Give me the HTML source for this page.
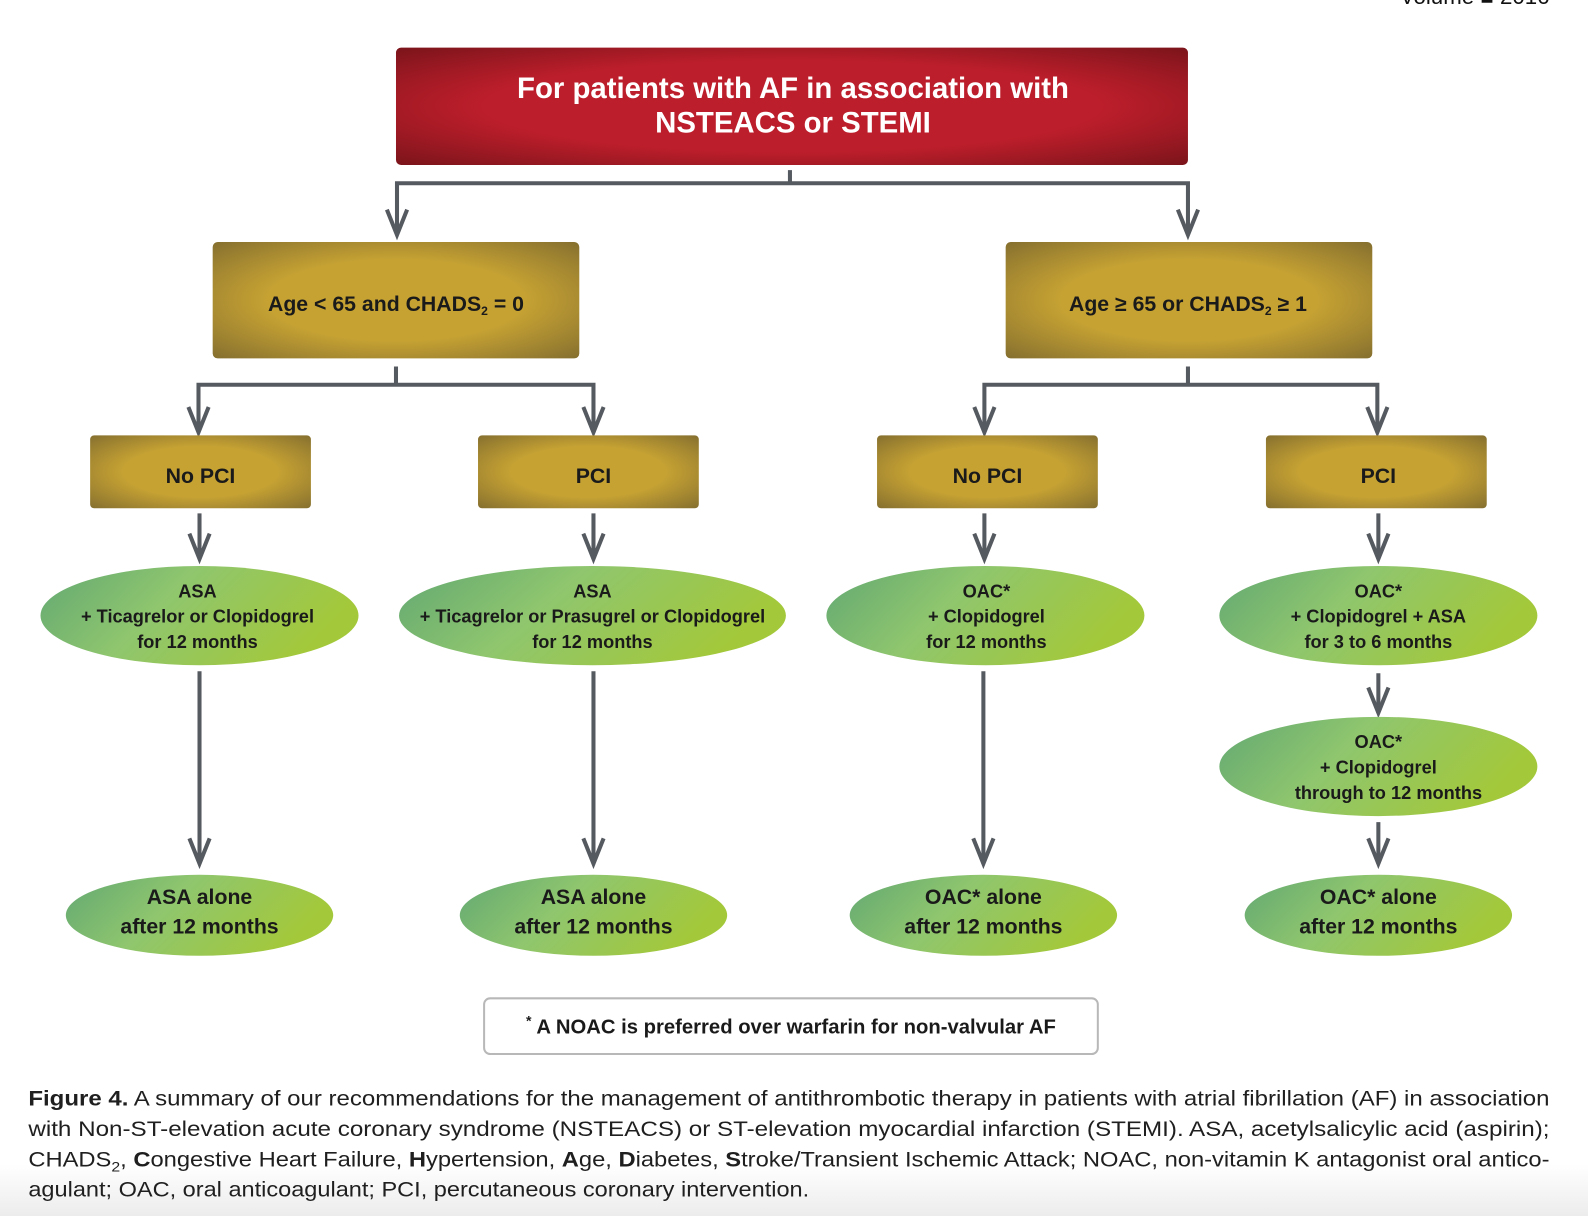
<!DOCTYPE html>
<html><head><meta charset="utf-8"><style>
html,body{margin:0;padding:0;background:#fff;}
svg{display:block;}
text{font-family:"Liberation Sans",sans-serif;}
</style></head><body>
<svg width="1588" height="1216" viewBox="0 0 1568 1201" preserveAspectRatio="none" xmlns="http://www.w3.org/2000/svg">
<defs>
<radialGradient id="red" cx="50%" cy="50%" r="70%"><stop offset="0.55" stop-color="#bd1e2b"/><stop offset="1" stop-color="#7c141b"/></radialGradient>
<radialGradient id="gold" cx="50%" cy="50%" r="70%"><stop offset="0.5" stop-color="#c6a233"/><stop offset="1" stop-color="#86702f"/></radialGradient>
<linearGradient id="grn" x1="0" y1="0" x2="1" y2="0.3"><stop offset="0" stop-color="#62a873"/><stop offset="0.45" stop-color="#8fc66e"/><stop offset="1" stop-color="#a3c83a"/></linearGradient>
<linearGradient id="bot" x1="0" y1="0" x2="0" y2="1"><stop offset="0" stop-color="#fff"/><stop offset="1" stop-color="#ececec"/></linearGradient>
</defs>
<rect x="0" y="1150" width="1568" height="51" fill="url(#bot)"/>
<text x="1530" y="4" font-size="22" text-anchor="end" fill="#111">Volume ■ 2016</text>

<g stroke="#555a60" stroke-width="4" fill="none">
<path d="M780 168V181M392 232V181H1173V232"/>
<path d="M391 362V380M196 427V380H586V427"/>
<path d="M1173 362V380M972 427V380H1360V427"/>
<path d="M197 507V552M586 507V552M972 507V552M1361 507V552"/>
<path d="M197 663V853M586 663V853M971 663V853M1361 665V704M1361 812V853"/>
</g>
<g stroke="#555a60" stroke-width="4" fill="none" stroke-linejoin="miter">
<polyline points="382,207 392,232 402,207"/><polyline points="1163,207 1173,232 1183,207"/>
<polyline points="186,402 196,427 206,402"/><polyline points="576,402 586,427 596,402"/>
<polyline points="962,402 972,427 982,402"/><polyline points="1350,402 1360,427 1370,402"/>
<polyline points="187,527 197,552 207,527"/><polyline points="576,527 586,552 596,527"/>
<polyline points="962,527 972,552 982,527"/><polyline points="1351,527 1361,552 1371,527"/>
<polyline points="187,828 197,853 207,828"/><polyline points="576,828 586,853 596,828"/>
<polyline points="961,828 971,853 981,828"/><polyline points="1351,679 1361,704 1371,679"/>
<polyline points="1351,828 1361,853 1371,828"/>
</g>

<rect x="391" y="47" width="782" height="116" rx="5" fill="url(#red)"/>
<text x="783" y="97" font-size="29" font-weight="bold" fill="#fff" text-anchor="middle">For patients with AF in association with</text>
<text x="783" y="131" font-size="29" font-weight="bold" fill="#fff" text-anchor="middle">NSTEACS or STEMI</text>

<rect x="210" y="239" width="362" height="115" rx="5" fill="url(#gold)"/>
<text x="391" y="307" font-size="21" font-weight="bold" fill="#1a1a1a" text-anchor="middle">Age &lt; 65 and CHADS<tspan font-size="12" dy="4">2</tspan><tspan dy="-4"> = 0</tspan></text>
<rect x="993" y="239" width="362" height="115" rx="5" fill="url(#gold)"/>
<text x="1173" y="307" font-size="21" font-weight="bold" fill="#1a1a1a" text-anchor="middle">Age ≥ 65 or CHADS<tspan font-size="12" dy="4">2</tspan><tspan dy="-4"> ≥ 1</tspan></text>

<g font-size="21" font-weight="bold" fill="#1a1a1a" text-anchor="middle">
<rect x="89" y="430" width="218" height="72" rx="4" fill="url(#gold)"/><text x="198" y="477">No PCI</text>
<rect x="472" y="430" width="218" height="72" rx="4" fill="url(#gold)"/><text x="586" y="477">PCI</text>
<rect x="866" y="430" width="218" height="72" rx="4" fill="url(#gold)"/><text x="975" y="477">No PCI</text>
<rect x="1250" y="430" width="218" height="72" rx="4" fill="url(#gold)"/><text x="1361" y="477">PCI</text>
</g>

<g fill="url(#grn)">
<ellipse cx="197" cy="608" rx="157" ry="49"/>
<ellipse cx="585" cy="608" rx="191" ry="49"/>
<ellipse cx="973" cy="608" rx="157" ry="49"/>
<ellipse cx="1361" cy="608" rx="157" ry="49"/>
<ellipse cx="1361" cy="757" rx="157" ry="49"/>
<ellipse cx="197" cy="904" rx="132" ry="40"/>
<ellipse cx="586" cy="904" rx="132" ry="40"/>
<ellipse cx="971" cy="904" rx="132" ry="40"/>
<ellipse cx="1361" cy="904" rx="132" ry="40"/>
</g>
<g font-size="18" font-weight="bold" fill="#1a1a1a" text-anchor="middle">
<text x="195" y="590">ASA</text><text x="195" y="615">+ Ticagrelor or Clopidogrel</text><text x="195" y="640">for 12 months</text>
<text x="585" y="590">ASA</text><text x="585" y="615">+ Ticagrelor or Prasugrel or Clopidogrel</text><text x="585" y="640">for 12 months</text>
<text x="974" y="590">OAC*</text><text x="974" y="615">+ Clopidogrel</text><text x="974" y="640">for 12 months</text>
<text x="1361" y="590">OAC*</text><text x="1361" y="615">+ Clopidogrel + ASA</text><text x="1361" y="640">for 3 to 6 months</text>
<text x="1361" y="739">OAC*</text><text x="1361" y="764">+ Clopidogrel</text><text x="1371" y="789">through to 12 months</text>
</g>
<g font-size="21" font-weight="bold" fill="#1a1a1a" text-anchor="middle">
<text x="197" y="893">ASA alone</text><text x="197" y="922">after 12 months</text>
<text x="586" y="893">ASA alone</text><text x="586" y="922">after 12 months</text>
<text x="971" y="893">OAC* alone</text><text x="971" y="922">after 12 months</text>
<text x="1361" y="893">OAC* alone</text><text x="1361" y="922">after 12 months</text>
</g>

<rect x="478" y="986" width="606" height="55" rx="6" fill="#fff" stroke="#b8b8b8" stroke-width="2"/>
<text x="781" y="1021" font-size="20" font-weight="bold" fill="#1a1a1a" text-anchor="middle"><tspan font-size="14" dy="-8">*</tspan><tspan dy="8"> A NOAC is preferred over warfarin for non-valvular AF</tspan></text>

<g font-size="21" fill="#1f1f1f">
<text x="28" y="1092" textLength="1502" lengthAdjust="spacingAndGlyphs"><tspan font-weight="bold">Figure 4.</tspan> A summary of our recommendations for the management of antithrombotic therapy in patients with atrial fibrillation (AF) in association</text>
<text x="28" y="1122" textLength="1502" lengthAdjust="spacingAndGlyphs">with Non-ST-elevation acute coronary syndrome (NSTEACS) or ST-elevation myocardial infarction (STEMI). ASA, acetylsalicylic acid (aspirin);</text>
<text x="28" y="1152" textLength="1502" lengthAdjust="spacingAndGlyphs">CHADS<tspan font-size="14" dy="5">2</tspan><tspan dy="-5">, </tspan><tspan font-weight="bold">C</tspan>ongestive Heart Failure, <tspan font-weight="bold">H</tspan>ypertension, <tspan font-weight="bold">A</tspan>ge, <tspan font-weight="bold">D</tspan>iabetes, <tspan font-weight="bold">S</tspan>troke/Transient Ischemic Attack; NOAC, non-vitamin K antagonist oral antico-</text>
<text x="28" y="1182" textLength="771" lengthAdjust="spacingAndGlyphs">agulant; OAC, oral anticoagulant; PCI, percutaneous coronary intervention.</text>
</g>
</svg>
</body></html>
